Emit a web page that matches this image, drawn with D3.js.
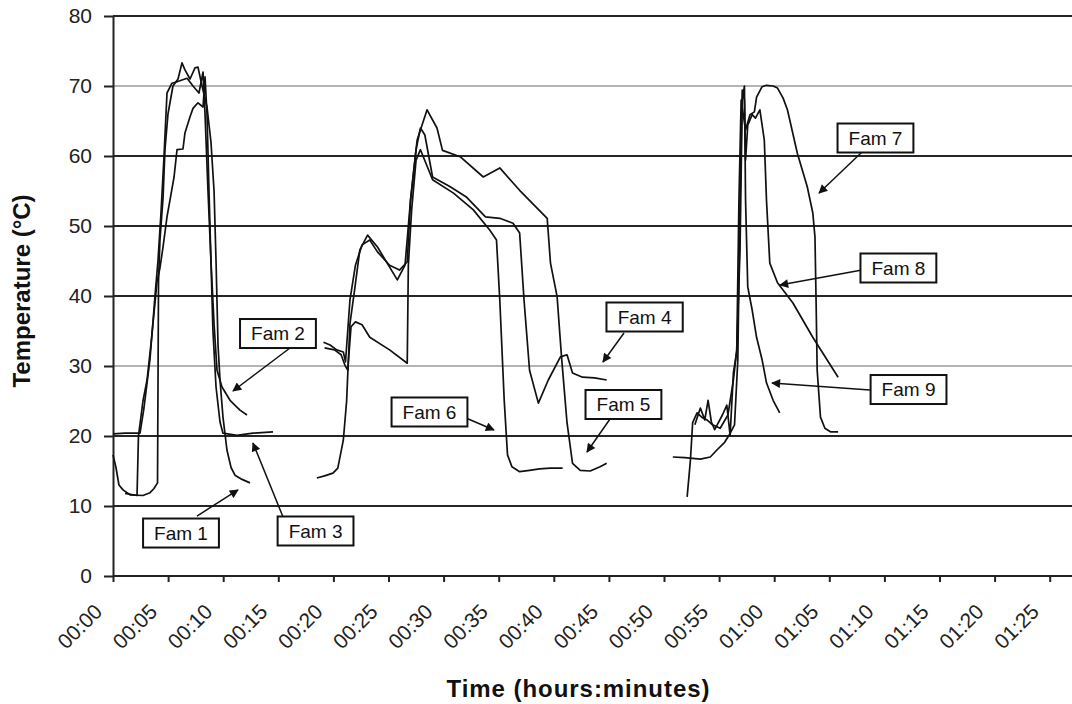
<!DOCTYPE html>
<html>
<head>
<meta charset="utf-8">
<script src="https://cdn.jsdelivr.net/npm/d3@7"></script>
<style>
  html, body { margin: 0; padding: 0; background: #fff; }
  svg { display: block; font-family: "Liberation Sans", Arial, sans-serif; }
</style>
</head>
<body>
<svg id="svg"></svg>
<script>
// time in minutes from 00:00, temperature in degrees C
const fam1 = [[0,17.3],[0.27,15.5],[0.54,13],[0.91,12.3],[1.54,11.6],[2.72,11.5],[3.36,11.9],[3.72,12.5],[4.04,13.3],[4.13,42],[4.26,48],[4.54,54],[4.72,61],[4.99,66],[5.44,70],[5.9,71],[6.26,73.3],[6.53,72.3],[6.99,71],[7.44,72.6],[7.71,72.7],[8.08,70],[8.53,67],[8.89,62],[9.17,55],[9.35,45],[9.53,33],[9.71,28],[9.98,22.7],[10.34,18],[10.71,15.5],[11.07,14.4],[11.71,13.8],[12.43,13.3]];
const fam2 = [[1.09,11.8],[2.18,11.5],[2.31,20],[2.72,25],[3.09,28],[3.54,34.5],[3.81,40],[4.08,45],[4.36,52],[4.63,60],[4.9,69],[5.35,70.4],[5.81,70.6],[6.72,71.1],[7.26,70],[7.8,69],[8.17,72],[8.35,66],[8.62,55],[8.89,45],[9.17,36],[9.44,29.4],[9.89,27],[10.62,25.1],[11.52,23.7],[12.16,23]];
const fam3 = [[0,20.3],[1.09,20.4],[2.45,20.4],[2.81,24],[3.09,27.6],[3.36,31],[3.54,34.7],[3.81,39],[3.99,42],[4.26,44],[4.54,47],[4.9,51.3],[5.17,53.7],[5.54,57],[5.81,60.9],[6.35,61],[6.53,63.3],[6.99,65.6],[7.26,66.8],[7.71,67.6],[8.17,67],[8.35,71.3],[8.53,66],[8.71,55],[8.89,45],[9.07,35],[9.35,27],[9.71,22],[9.98,20.4],[11.25,20.1],[12.7,20.4],[14.52,20.6]];
const fam4 = [[19.1,33.4],[19.7,33],[20.3,32.3],[20.9,32],[21.1,30.6],[21.5,39.4],[22,44.4],[22.6,47.3],[23.3,48],[24,46.3],[25.1,44.4],[26,43.7],[26.7,44.9],[27,53.7],[27.5,60.9],[27.9,64],[28.3,63],[29,57],[30.6,55.6],[32.1,54.1],[33.8,51.3],[35.1,51.1],[36.3,50.4],[36.9,49],[37.3,39.4],[37.8,29.4],[38.6,24.7],[39.5,28],[40.6,31.3],[41.2,31.6],[41.7,29],[42.6,28.4],[43.7,28.3],[44.8,28]];
const fam5 = [[18.5,14],[19.2,14.3],[19.96,14.7],[20.4,15.4],[20.9,19.4],[21.2,25],[21.5,36],[21.96,41.3],[22.4,46.6],[23.1,48.7],[24,47],[25.8,42.3],[26.5,44.4],[27,53.7],[27.6,62.3],[28.5,66.6],[29.4,64],[29.9,60.8],[31.5,59.9],[33.6,57],[35.1,58.3],[36.9,55.1],[39.4,51.1],[39.7,44.7],[40.3,39.9],[40.7,31.3],[41.2,21.9],[41.7,16.1],[42.4,15.1],[43.3,15],[44.2,15.6],[44.8,16.1]];
const fam6 = [[19.2,32.6],[20.1,32.3],[20.7,31.6],[21.05,30.1],[21.3,29.4],[21.6,35.6],[22,36.3],[22.6,35.9],[23.3,34.1],[25.1,32.3],[26.7,30.4],[26.8,44.4],[27.1,52.3],[27.5,59.4],[27.9,60.9],[29,56.6],[30.9,54.7],[32.7,52.3],[34.2,49.4],[34.8,48],[35.1,39.4],[35.5,25.1],[35.8,17.3],[36.2,15.6],[36.9,14.9],[37.8,15.1],[38.7,15.3],[39.7,15.4],[40.8,15.4]];
const fam7 = [[52.8,21.6],[53.3,24],[53.7,22.3],[54,25.1],[54.3,22],[54.6,20.9],[55.3,23],[55.7,24.4],[56,20.1],[56.3,29.1],[56.6,32],[56.8,53.7],[57,68],[57.4,63.7],[57.8,65.9],[58.2,66.3],[58.4,68.4],[58.9,69.9],[59.3,70.1],[59.9,70],[60.3,69.7],[60.8,68.3],[61.2,66.6],[62.1,60.4],[63,55.6],[63.5,51.9],[63.7,48.4],[63.8,39.4],[63.9,29.4],[64.2,22.7],[64.6,21.1],[65.1,20.6],[65.8,20.6]];
const fam8 = [[50.8,17],[51.9,16.9],[53.3,16.7],[54.2,17],[54.8,18],[55.5,19.1],[55.9,20.1],[56.4,21.6],[56.7,30.9],[56.9,53.7],[57.1,69.4],[57.3,68],[57.4,59.4],[57.6,64.4],[58,65.9],[58.3,65.4],[58.7,66.6],[59.1,62.3],[59.3,53.7],[59.6,44.7],[60.3,41.9],[61.7,39],[63.5,34.1],[65.8,28.4]];
const fam9 = [[52.1,11.3],[52.4,16.6],[52.6,21.9],[53,23.3],[53.5,22.6],[53.9,22.3],[54.4,21.6],[55.1,21.1],[55.8,23],[56.3,28],[56.6,32.3],[56.9,46.6],[57.1,68],[57.3,70],[57.4,53.7],[57.6,41.3],[58,38],[58.4,34.1],[58.9,30.9],[59.3,27.6],[59.9,25.1],[60.5,23.3]];

const seriesNames = ['Fam 1', 'Fam 2', 'Fam 3', 'Fam 4', 'Fam 5', 'Fam 6', 'Fam 7', 'Fam 8', 'Fam 9'];
const seriesValues = [fam1, fam2, fam3, fam4, fam5, fam6, fam7, fam8, fam9];

// callouts: label box centre, arrow start and arrow tip, all in (minutes, degC)
const calloutBox   = [[6.17,6.14],[14.97,34.64],[18.38,6.43],[48.24,37.0],[46.32,24.5],[28.72,23.43],[69.19,62.57],[71.27,44.0],[72.19,26.64]];
const calloutFrom  = [[7.62,8.57],[16.06,32.57],[15.43,8.43],[46.37,34.71],[45.1,22.43],[32.03,22.57],[67.97,60.57],[67.97,43.71],[68.69,26.57]];
const calloutTip   = [[11.34,12.29],[10.89,26.43],[12.7,19.0],[44.46,30.57],[43.01,17.71],[34.57,20.86],[64.07,54.71],[60.53,41.57],[59.8,27.57]];

const tempTicks = [0, 10, 20, 30, 40, 50, 60, 70, 80];
const lightGrid = [30, 70];
const timeTicks = d3.range(0, 90, 5);
const timeLabels = ['00:00','00:05','00:10','00:15','00:20','00:25','00:30','00:35','00:40','00:45',
                    '00:50','00:55','01:00','01:05','01:10','01:15','01:20','01:25'];

const width = 1072;
const height = 704;
const margin = { top: 16, left: 113, bottom: 128 };
const plotBottom = height - margin.bottom;

const svg = d3.select('#svg')
  .attr('width', width)
  .attr('height', height);

// SCALES
const xScale = d3.scaleLinear()
  .domain([0, 90])
  .range([margin.left, margin.left + 18 * 55.1]);

const yScale = d3.scaleLinear()
  .domain([0, 80])
  .range([plotBottom, margin.top]);

// GRID
svg.append('g')
  .selectAll('line')
  .data(tempTicks.filter(d => d > 0))
  .enter()
  .append('line')
  .attr('x1', xScale(0))
  .attr('x2', width)
  .attr('y1', d => yScale(d))
  .attr('y2', d => yScale(d))
  .attr('stroke', d => lightGrid.includes(d) ? '#b4b4b4' : '#262626')
  .attr('stroke-width', 2);

// Y AXIS
const yAxis = svg.append('g')
  .attr('transform', `translate(${margin.left}, 0)`)
  .call(d3.axisLeft(yScale).tickValues(tempTicks).tickSizeInner(9).tickSizeOuter(0).tickPadding(12));
yAxis.select('.domain').attr('stroke', '#222').attr('stroke-width', 2);
yAxis.selectAll('.tick line').attr('stroke', '#222').attr('stroke-width', 2);
yAxis.selectAll('text')
  .attr('font-size', '21px')
  .attr('font-family', '"Liberation Sans", Arial, sans-serif')
  .attr('fill', '#222');

// X AXIS
const xAxis = svg.append('g')
  .attr('transform', `translate(0, ${plotBottom})`)
  .call(d3.axisBottom(xScale).tickValues(timeTicks).tickFormat((d, i) => timeLabels[i]).tickSizeInner(6).tickSizeOuter(0));
xAxis.select('.domain').attr('stroke', '#222').attr('stroke-width', 2).attr('d', `M${xScale(0)},0H${width}`);
xAxis.selectAll('.tick line').attr('stroke', '#222').attr('stroke-width', 2);
xAxis.selectAll('text')
  .attr('x', 0)
  .attr('y', 0)
  .attr('dy', 0)
  .attr('transform', 'translate(-10, 37) rotate(-45)')
  .style('text-anchor', 'end')
  .attr('font-size', '21px')
  .attr('font-family', '"Liberation Sans", Arial, sans-serif')
  .attr('fill', '#222');

// AXIS TITLES
svg.append('text')
  .attr('text-anchor', 'middle')
  .attr('font-weight', 'bold')
  .attr('font-size', '24px')
  .attr('textLength', 263)
  .attr('lengthAdjust', 'spacing')
  .attr('fill', '#111')
  .attr('x', 578)
  .attr('y', 697)
  .text('Time (hours:minutes)');

svg.append('text')
  .attr('text-anchor', 'middle')
  .attr('font-weight', 'bold')
  .attr('font-size', '24px')
  .attr('fill', '#111')
  .attr('transform', 'translate(30, 291) rotate(-90)')
  .text('Temperature (°C)');

// LINES
const line = d3.line()
  .x(d => xScale(d[0]))
  .y(d => yScale(d[1]));

svg.append('g')
  .selectAll('path')
  .data(seriesValues)
  .enter()
  .append('path')
  .attr('d', line)
  .attr('fill', 'none')
  .attr('stroke', '#111')
  .attr('stroke-width', 1.7)
  .attr('stroke-linejoin', 'round');

// CALLOUTS
svg.append('defs')
  .append('marker')
  .attr('id', 'arrow')
  .attr('viewBox', '0 0 10 10')
  .attr('refX', 9)
  .attr('refY', 5)
  .attr('markerWidth', 7)
  .attr('markerHeight', 6)
  .attr('orient', 'auto')
  .append('path')
  .attr('d', 'M0,0L10,5L0,10Z')
  .attr('fill', '#111');

const callouts = svg.append('g');

callouts.selectAll('line')
  .data(seriesNames)
  .enter()
  .append('line')
  .attr('x1', (d, i) => xScale(calloutFrom[i][0]))
  .attr('y1', (d, i) => yScale(calloutFrom[i][1]))
  .attr('x2', (d, i) => xScale(calloutTip[i][0]))
  .attr('y2', (d, i) => yScale(calloutTip[i][1]))
  .attr('stroke', '#111')
  .attr('stroke-width', 1.5)
  .attr('marker-end', 'url(#arrow)');

const boxes = callouts.selectAll('.callout')
  .data(seriesNames)
  .enter()
  .append('g')
  .attr('class', 'callout')
  .attr('transform', (d, i) => `translate(${xScale(calloutBox[i][0])}, ${yScale(calloutBox[i][1])})`);

boxes.append('rect');
boxes.append('text')
  .attr('text-anchor', 'middle')
  .attr('dy', '0.36em')
  .attr('font-size', '19px')
  .attr('fill', '#111')
  .text(d => d);

boxes.each(function () {
  const g = d3.select(this);
  const w = g.select('text').node().getBBox().width + 22;
  const h = 29;
  g.select('rect')
    .attr('x', -w / 2)
    .attr('y', -h / 2)
    .attr('width', w)
    .attr('height', h)
    .attr('fill', '#fff')
    .attr('stroke', '#111')
    .attr('stroke-width', 2);
});
</script>
</body>
</html>
